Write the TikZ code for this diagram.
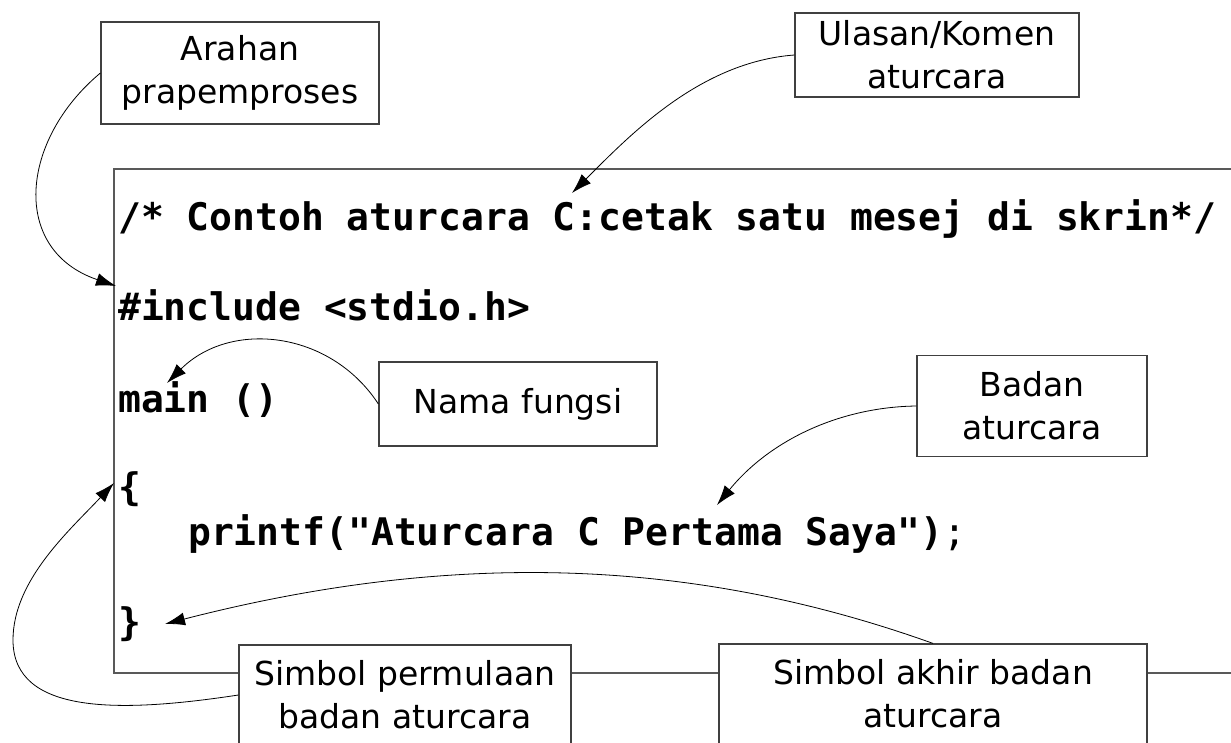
\documentclass[tikz,border=0pt]{standalone}
\usepackage{fontspec}
\usetikzlibrary{arrows.meta}
\newfontfamily\lblfont{DejaVu Sans}
\newfontfamily\kodfont{DejaVu Sans Mono}

\tikzset{
  notebox/.style={draw=black!75, line width=1.2pt, fill=white, align=center, inner sep=0pt,
    font=\lblfont\fontsize{33}{43}\selectfont},
  kod/.style={anchor=base west, inner sep=0pt, font=\kodfont\bfseries\fontsize{38}{45}\selectfont},
  pointer/.style={line width=0.8pt, -{Latex[length=20pt,width=13pt]}}
}

\begin{document}
\begin{tikzpicture}[x=1pt,y=-1pt]
  \useasboundingbox (0,0) rectangle (1231,742);
  \draw[black!65, line width=1.3pt] (114,169) rectangle (1300,673); % kotak aturcara
  % baris aturcara
  \node[kod] (komen) at (118,230) {/* Contoh aturcara C:cetak satu mesej di skrin*/};
  \node[kod] (incl) at (118,320) {\#include <stdio.h>};
  \node[kod] (mainfn) at (118,412) {main ()};
  \node[kod] (buka) at (118,500) {\{};
  \node[kod] (cetak) at (188,545) {printf("Aturcara C Pertama Saya"){\mdseries;}};
  \node[kod] (tutup) at (118,635) {\}};
  % kotak keterangan
  \node[notebox, minimum width=278pt, minimum height=102pt] (arahan) at (240,73) {Arahan\\prapemproses};
  \node[notebox, minimum width=284pt, minimum height=84pt] (ulasan) at (937,55) {Ulasan/Komen\\aturcara};
  \node[notebox, minimum width=278pt, minimum height=84pt] (nama) at (518,404) {Nama fungsi};
  \node[notebox, minimum width=230pt, minimum height=101pt] (badan) at (1032,406) {Badan\\aturcara};
  \node[notebox, minimum width=332pt, minimum height=100pt] (mula) at (405,695) {Simbol permulaan\\badan aturcara};
  \node[notebox, minimum width=428pt, minimum height=100pt] (akhir) at (933,694) {Simbol akhir badan\\aturcara};
  % hujung anak panah
  \coordinate (tipInc) at (116,286);
  \coordinate (tipKomen) at (572,193);
  \coordinate (tipMain) at (167,383);
  \coordinate (tipCetak) at (717,505);
  \coordinate (tipBuka) at (114,483);
  \coordinate (tipTutup) at (165,624);
  % anak panah
  \draw[pointer] (arahan.west) .. controls (20,140) and (10,250) .. (tipInc);
  \draw[pointer] (ulasan.west) .. controls (700,62) and (630,135) .. (tipKomen);
  \draw[pointer] (nama.west) .. controls (330,330) and (230,320) .. (tipMain);
  \draw[pointer] (badan.west) .. controls (840,407) and (770,440) .. (tipCetak);
  \draw[pointer] (mula.west) .. controls (120,713) and (13,715) .. (13,640)
    .. controls (13,580) and (70,530) .. (tipBuka);
  \draw[pointer] (akhir.north) .. controls (700,560) and (460,548) .. (tipTutup);
\end{tikzpicture}
\end{document}
